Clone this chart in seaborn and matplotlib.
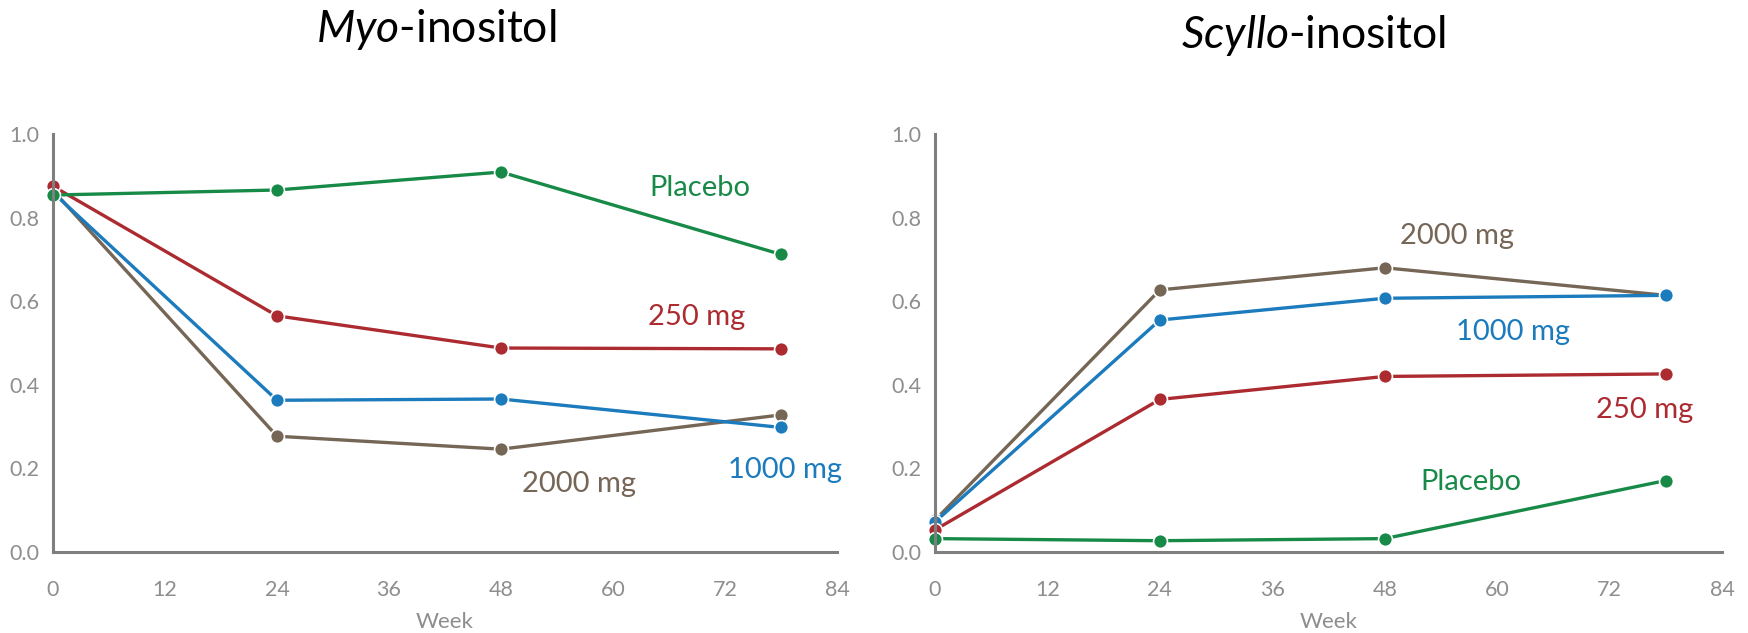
import numpy as np
import pandas as pd
import matplotlib
matplotlib.use("Agg")
import matplotlib.pyplot as plt
import seaborn as sns

# values
weeks = [0, 24, 48, 78]
doses = ["Placebo", "250 mg", "1000 mg", "2000 mg"]

myo_placebo = [0.854, 0.866, 0.909, 0.712]
myo_250 = [0.875, 0.565, 0.488, 0.486]
myo_1000 = [0.860, 0.363, 0.366, 0.298]
myo_2000 = [0.865, 0.277, 0.246, 0.328]

scy_placebo = [0.032, 0.027, 0.032, 0.171]
scy_250 = [0.053, 0.365, 0.420, 0.426]
scy_1000 = [0.072, 0.555, 0.607, 0.614]
scy_2000 = [0.076, 0.627, 0.680, 0.614]

palette = {"Placebo": "#178a48", "250 mg": "#ac2b30",
           "1000 mg": "#1b7bbd", "2000 mg": "#756656"}

# label positions (week, value) for the in-plot dose labels
myo_lbl = {"Placebo": (69.3, 0.870), "250 mg": (69.0, 0.562),
           "1000 mg": (78.4, 0.197), "2000 mg": (56.4, 0.163)}
scy_lbl = {"Placebo": (57.2, 0.168), "250 mg": (75.7, 0.340),
           "1000 mg": (61.7, 0.526), "2000 mg": (55.7, 0.756)}


def long_df(series):
    rows = []
    for d, vals in zip(doses, series):
        for w, v in zip(weeks, vals):
            rows.append({"Week": w, "value": v, "dose": d})
    return pd.DataFrame(rows)


df_myo = long_df([myo_placebo, myo_250, myo_1000, myo_2000])
df_scy = long_df([scy_placebo, scy_250, scy_1000, scy_2000])

sns.set_style("white")
plt.rcParams['font.family'] = ['Lato', 'DejaVu Sans']
plt.rcParams['mathtext.fontset'] = 'custom'
plt.rcParams['mathtext.rm'] = 'Lato'
plt.rcParams['mathtext.it'] = 'Lato:italic'

fig = plt.figure(figsize=(17.48, 6.33), dpi=100)
ax1 = fig.add_axes([53 / 1748, 1 - 552 / 633, 784 / 1748, 418 / 633])
ax2 = fig.add_axes([935 / 1748, 1 - 552 / 633, 787 / 1748, 418 / 633])

grey = "#8e8e8e"
for ax, df, lbl in [(ax1, df_myo, myo_lbl), (ax2, df_scy, scy_lbl)]:
    # placebo drawn last so it sits on top at week 0 like the reference
    sns.lineplot(data=df, x="Week", y="value", hue="dose",
                 hue_order=["2000 mg", "1000 mg", "250 mg", "Placebo"],
                 palette=palette, marker="o", markersize=10,
                 markeredgecolor="white", markeredgewidth=1.2,
                 linewidth=2.4, ax=ax, legend=False)
    ax.set_xlim(0, 84)
    ax.set_ylim(0, 1.0)
    ax.set_xticks(np.arange(0, 85, 12))
    ax.set_yticks(np.arange(0, 1.01, 0.2))
    ax.set_yticklabels([f"{t:.1f}" for t in np.arange(0, 1.01, 0.2)])
    ax.tick_params(axis="both", length=0, labelsize=15.5, colors=grey)
    ax.tick_params(axis="x", pad=20)
    ax.tick_params(axis="y", pad=10)
    ax.set_ylabel("")
    ax.set_xlabel("Week", fontsize=16, color=grey, labelpad=9)
    for s in ["top", "right"]:
        ax.spines[s].set_visible(False)
    for s in ["left", "bottom"]:
        ax.spines[s].set_color("#7f7f7f")
        ax.spines[s].set_linewidth(2.2)
    for d in doses:
        x, y = lbl[d]
        ax.text(x, y, d, color=palette[d], fontsize=21,
                ha="center", va="center")
    for ln in ax.lines:
        ln.set_clip_on(False)

fig.text(436 / 1748, 1 - 30 / 633, r"$\mathit{Myo}$-inositol",
         fontsize=32, ha="center", va="center", color="black")
fig.text(1313 / 1748, 1 - 36 / 633, r"$\mathit{Scyllo}$-inositol",
         fontsize=32, ha="center", va="center", color="black")

fig.savefig("out.png", dpi=100)
